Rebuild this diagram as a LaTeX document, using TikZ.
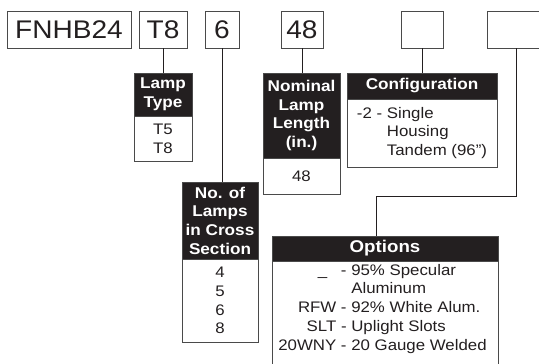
\documentclass[tikz,border=0pt]{standalone}
\usepackage{fontspec}
\setmainfont{Liberation Sans}[FakeStretch=1.1]
\definecolor{ink}{HTML}{231F20}
\definecolor{frame}{HTML}{4A4A4A}
\begin{document}
\begin{tikzpicture}[x=1pt,y=-1pt,
  topbox/.style={draw=frame, line width=0.9pt, inner sep=0pt, text=ink, font=\fontsize{25.5}{30}\selectfont, minimum height=37},
  head/.style={fill=ink, draw=frame, line width=0.9pt, inner sep=0pt, text=white, align=center, font=\fontsize{15.6}{18.7}\selectfont\bfseries},
  body/.style={draw=frame, line width=0.9pt, inner sep=0pt, text=ink, align=center, font=\fontsize{15.3}{18.7}\selectfont},
  plain/.style={inner sep=0pt, text=ink, font=\fontsize{15.3}{18.7}\selectfont},
  link/.style={draw=ink, line width=0.8pt}]
\useasboundingbox (0,0) rectangle (539,364);
\clip (0,0) rectangle (539,364);
\fill[white] (0,0) rectangle (539,364);
% top code boxes
\node[topbox, minimum width=124] (fnhb) at (69,29.5) {FNHB24};
\node[topbox, minimum width=48] (t8) at (163,29.5) {T8};
\node[topbox, minimum width=34] (six) at (222,29.5) {6};
\node[topbox, minimum width=42] (fortyeight) at (302,29.5) {48};
\node[topbox, minimum width=42] (cfgsq) at (422,29.5) {};
\node[topbox, minimum width=58] (optsq) at (516,29.5) {};
% Lamp type
\node[head, minimum width=58, minimum height=43] (lamphead) at (163,94.5) {Lamp\\Type};
\node[body, minimum width=58, minimum height=45] (lampbody) at (163,138.5) {T5\\T8};
% Nominal lamp length
\node[head, minimum width=77, minimum height=85] (nomhead) at (301.5,115.5) {Nominal\\Lamp\\Length\\(in.)};
\node[body, minimum width=77, minimum height=36] (nombody) at (301.5,176) {48};
% Configuration
\node[head, minimum width=150, minimum height=26] (cfghead) at (422,86) {Configuration};
\node[body, minimum width=150, minimum height=68] (cfgbody) at (422,133)
  {\begin{tabular}{@{}l@{\ }l@{}}-2 - & Single\\ & Housing\\ & Tandem (96”)\end{tabular}};
% Number of lamps
\node[head, minimum width=76, minimum height=77] (lampshead) at (220,220.5) {No. of\\Lamps\\in Cross\\Section};
\node[body, minimum width=76, minimum height=83] (lampsbody) at (220,300.5) {4\\5\\6\\8};
% Options
\node[head, minimum width=226, minimum height=25, font=\fontsize{17}{20}\selectfont\bfseries] (opthead) at (385,248.5) {Options};
\node[body, minimum width=226, minimum height=119] (optbody) at (385,320.5) {};
\node[plain, anchor=north] (opttext) at (382.5,262)
  {\begin{tabular}{@{}r@{}l@{}}\_\hspace{9pt} & \ -\ 95\% Specular\\ & \phantom{\ -\ }Aluminum\\ RFW & \ -\ 92\% White Alum.\\ SLT & \ -\ Uplight Slots\\ 20WNY & \ -\ 20 Gauge Welded\end{tabular}};
% connectors
\draw[link] (t8.south) -- (lamphead.north);
\draw[link] (six.south) -- (six.south |- lampshead.north);
\draw[link] (fortyeight.south) -- (fortyeight.south |- nomhead.north);
\draw[link] (cfgsq.south) -- (cfghead.north);
\coordinate (bend) at (376,196);
\draw[link] (optsq.south) |- (bend) -- (bend |- opthead.north);
\end{tikzpicture}
\end{document}
